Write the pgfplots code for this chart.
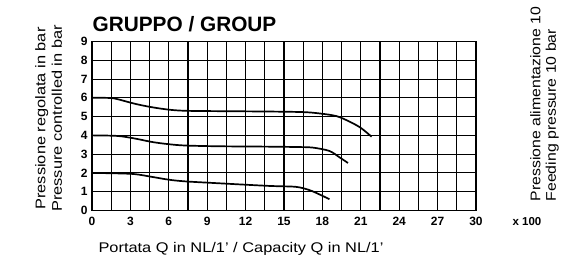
\documentclass[border=0pt]{standalone}
\usepackage{pgfplots}
\pgfplotsset{compat=1.18}
\usepackage{graphicx}
\usepackage{fontspec}
\setmainfont{Liberation Sans}
\newcommand{\lab}[1]{\scalebox{1.17}[1]{#1}}
\newcommand{\labr}[1]{\scalebox{1.13}[1]{#1}}
\begin{document}
\begin{tikzpicture}
\begin{axis}[
  at={(0,0)}, anchor=south west,
  scale only axis, width=384pt, height=169pt,
  xmin=0, xmax=30, ymin=0, ymax=9,
  xtick={0,3,...,30}, ytick={0,1,...,9},
  minor xtick={1.5,4.5,...,28.5},
  grid=both,
  major grid style={black, line width=1.05pt},
  minor grid style={black, line width=1.05pt},
  axis line style={black, line width=1.2pt},
  major tick length=0pt, minor tick length=0pt,
  tick label style={font=\fontsize{12}{12}\selectfont\bfseries},
  xticklabel style={yshift=-3pt},
  yticklabel style={xshift=-1pt},
  /pgf/number format/assume math mode=true,
  clip=false,
]
\addplot[black, line width=1.7pt, smooth, tension=0.5] coordinates {
 (0,6.0) (1.0,6.0) (1.8,5.96) (3.37,5.68) (4.68,5.5) (6,5.37) (7.3,5.31) (9.9,5.29) (13.8,5.27) (16.5,5.24) (17.76,5.17) (19.08,5.03) (20.1,4.74) (21,4.4) (21.84,3.93)};
\addplot[black, line width=1.7pt, smooth, tension=0.5] coordinates {
 (0,4.0) (2,3.97) (3.37,3.83) (4.68,3.65) (6,3.53) (7.3,3.46) (9.9,3.42) (13.8,3.4) (16,3.38) (17.24,3.35) (18.55,3.17) (19.34,2.83) (20.0,2.53)};
\addplot[black, line width=1.7pt, smooth, tension=0.5] coordinates {
 (0,2.0) (3.1,1.95) (4.68,1.79) (6,1.64) (7.3,1.55) (9.9,1.45) (13.8,1.31) (15.92,1.26) (16.97,1.09) (17.76,0.86) (18.55,0.6)};
\end{axis}
\path[use as bounding box] (-92pt,-48.5pt) rectangle (490pt,210.5pt);
\node[font=\fontsize{20.8}{22}\selectfont\bfseries] at (92.5pt,186.5pt) {GRUPPO / GROUP};
\node[font=\fontsize{14}{16}\selectfont, anchor=base] at (149pt,-42.2pt) {\lab{Portata Q in NL/1' / Capacity Q in NL/1'}};
\node[font=\fontsize{11.5}{11.5}\selectfont\bfseries] at (435pt,-11.5pt) {x 100};
\node[font=\fontsize{14}{16.5}\selectfont, rotate=90, align=center] at (-43.5pt,92pt) {\lab{Pressione regolata in bar}\\\lab{Pressure controlled in bar}};
\node[font=\fontsize{14}{15.5}\selectfont, rotate=90, align=left, anchor=west, inner sep=0pt] at (452.5pt,9pt) {\labr{Pressione alimentazione 10}\\\labr{Feeding pressure 10 bar}};
\end{tikzpicture}
\end{document}
